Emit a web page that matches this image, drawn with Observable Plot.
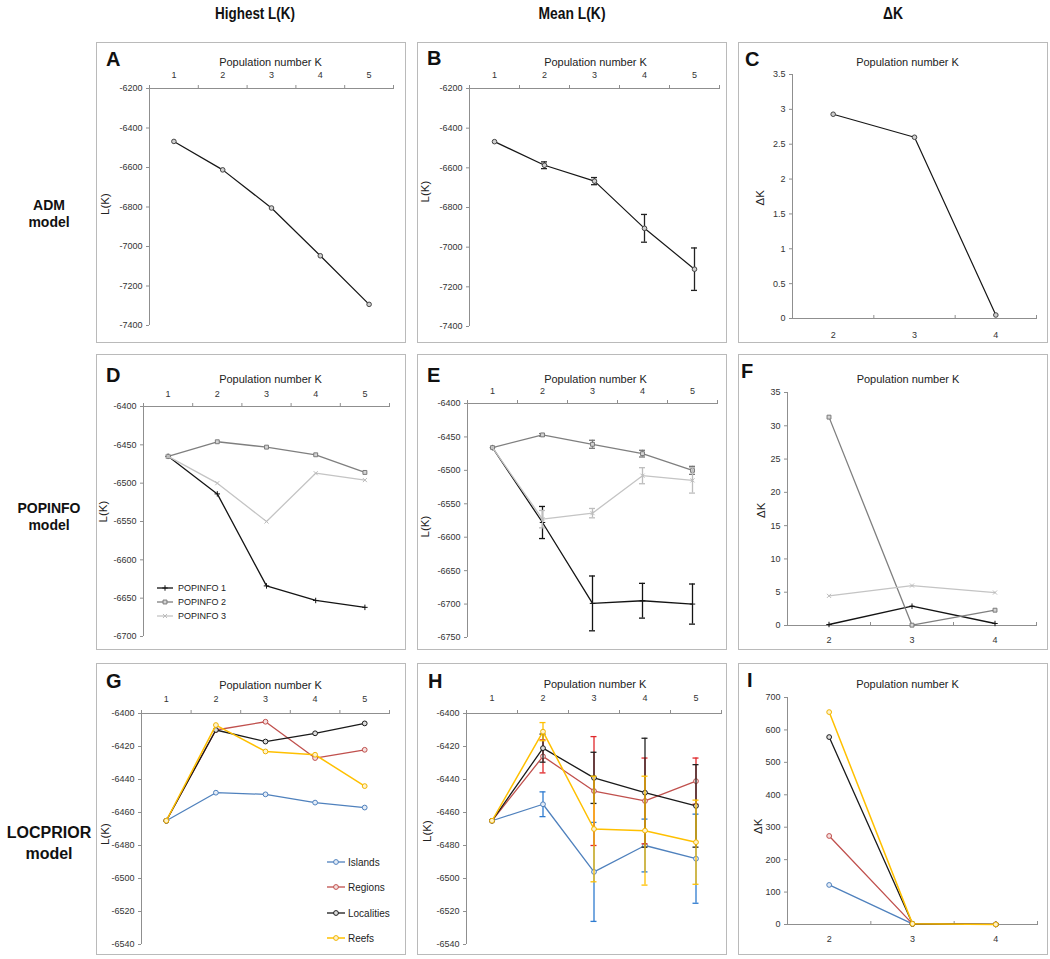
<!DOCTYPE html>
<html><head><meta charset="utf-8">
<script src="https://cdn.jsdelivr.net/npm/d3@7"></script>
<script src="https://cdn.jsdelivr.net/npm/@observablehq/plot@0.6"></script>
<style>
html,body{margin:0;padding:0;background:#fff;}
#page{position:relative;width:1050px;height:959px;overflow:hidden;font-family:'Liberation Sans',Arial,Helvetica,sans-serif;}
.frame{position:absolute;border:1px solid #bababa;box-sizing:border-box;}
.panel{position:absolute;overflow:visible;}
#overlay{position:absolute;left:0;top:0;}
</style></head><body><div id="page"></div>
<script>
// ---------------- DATA ----------------
const K_ALL = [1, 2, 3, 4, 5];
const K_DELTA = [2, 3, 4];

const columnTitles = ["Highest L(K)", "Mean L(K)", "\u0394K"];
const rowTitles = [["ADM", "model"], ["POPINFO", "model"], ["LOCPRIOR", "model"]];
const panelLetters = ["A", "B", "C", "D", "E", "F", "G", "H", "I"];
const xTitle = "Population number K";
const yTitleL = "L(K)";
const yTitleD = "\u0394K";

// ADM model
const admHighest = [-6468, -6612, -6805, -7047, -7293];
const admMean = [-6468, -6587, -6667, -6905, -7111];
const admMeanSD = [0, 17, 18, 70, 107];
const admDelta = [2.93, 2.60, 0.05];
const admTicksL = [-7400, -7200, -7000, -6800, -6600, -6400, -6200];
const admTicksD = [0, 0.5, 1, 1.5, 2, 2.5, 3, 3.5];

// POPINFO model
const popinfoNames = ["POPINFO 1", "POPINFO 2", "POPINFO 3"];
const popHighest1 = [-6465, -6514, -6634, -6653, -6662];
const popHighest2 = [-6465, -6446, -6453, -6463, -6486];
const popHighest3 = [-6465, -6500, -6550, -6487, -6496];
const popMean1 = [-6466, -6578, -6699, -6695, -6700];
const popMean2 = [-6466, -6447, -6461, -6475, -6500];
const popMean3 = [-6466, -6573, -6564, -6508, -6515];
const popMeanSD1 = [0, 24, 41, 26, 30];
const popMeanSD2 = [0, 2, 6, 5, 6];
const popMeanSD3 = [0, 13, 7, 12, 19];
const popDelta1 = [0.15, 2.9, 0.3];
const popDelta2 = [31.3, 0.05, 2.3];
const popDelta3 = [4.45, 6.0, 4.95];
const popTicksHigh = [-6700, -6650, -6600, -6550, -6500, -6450, -6400];
const popTicksMean = [-6750, -6700, -6650, -6600, -6550, -6500, -6450, -6400];
const popTicksD = [0, 5, 10, 15, 20, 25, 30, 35];

// LOCPRIOR model
const locNames = ["Islands", "Regions", "Localities", "Reefs"];
const locHighIslands = [-6465, -6448, -6449, -6454, -6457];
const locHighRegions = [-6465, -6410, -6405, -6427, -6422];
const locHighLocalities = [-6465, -6410, -6417, -6412, -6406];
const locHighReefs = [-6465, -6407, -6423, -6425, -6444];
const locMeanIslands = [-6465, -6455, -6496, -6480, -6488];
const locMeanRegions = [-6465, -6426, -6447, -6453, -6441];
const locMeanLocalities = [-6465, -6421, -6439, -6448, -6456];
const locMeanReefs = [-6465, -6411, -6470, -6471, -6478];
const locSDIslands = [0, 7.5, 30, 16, 27];
const locSDRegions = [0, 10, 33, 26, 14];
const locSDLocalities = [0, 8.5, 15.5, 33, 25];
const locSDReefs = [0, 5.5, 32, 33, 25.5];
const locDeltaIslands = [122, 2, 0.3];
const locDeltaRegions = [273, 2, 0.3];
const locDeltaLocalities = [578, 2, 0.3];
const locDeltaReefs = [655, 2, 0.3];
const locTicks = [-6540, -6520, -6500, -6480, -6460, -6440, -6420, -6400];
const locTicksD = [0, 100, 200, 300, 400, 500, 600, 700];

// ---------------- STYLES ----------------
const AXIS = "#8f8f8f";
const TXT = "#333";
const FONT = "'Liberation Sans', Arial, Helvetica, sans-serif";
const styADM = {color: "#161616", bar: "#222", symbol: "circle", mstroke: "#444", mfill: "#cfcfcf", r: 2.3, sw: 1.2};
const styPop = [
  {color: "#141414", bar: "#141414", symbol: "plus", mstroke: "#141414", mfill: "none", r: 1.9, sw: 1.3},
  {color: "#7f7f7f", bar: "#777", symbol: "square", mstroke: "#7a7a7a", mfill: "#d4d4d4", r: 2.2, sw: 1.3},
  {color: "#c4c4c4", bar: "#bdbdbd", symbol: "times", mstroke: "#bcbcbc", mfill: "none", r: 2.0, sw: 1.3}
];
const styLoc = [
  {color: "#4f81bd", bar: "#2e7bd0", symbol: "circle", mstroke: "#4f81bd", mfill: "#e4ecf7", r: 2.4, sw: 1.3},
  {color: "#c0504d", bar: "#e0282b", symbol: "circle", mstroke: "#c0504d", mfill: "#f5e0df", r: 2.4, sw: 1.3},
  {color: "#1a1a1a", bar: "#222", symbol: "circle", mstroke: "#1a1a1a", mfill: "#ddd", r: 2.4, sw: 1.3},
  {color: "#ffc000", bar: "#ffc000", symbol: "circle", mstroke: "#f0b400", mfill: "#fff2cc", r: 2.4, sw: 1.5}
];

const COLS = [96, 417, 738];
const ROWS = [{top: 42, h: 301}, {top: 354, h: 296}, {top: 663, h: 292}];
const PW = 310;

// ---------------- PANELS ----------------
const panels = [
  {c: 0, r: 0, ml: 53, mr: 13, mt: 46, mb: 18, ks: K_ALL, xAnchor: "top", xPad: 11, yDomain: [-7400, -6200], yTicks: admTicksL,
   yLabel: yTitleL, tdx: -1, tdy: -30, ldx: -44, ldy: 8,
   series: [{values: admHighest, ...styADM}]},
  {c: 1, r: 0, ml: 52, mr: 8, mt: 46, mb: 17, ks: K_ALL, xAnchor: "top", xPad: 11, yDomain: [-7400, -6200], yTicks: admTicksL,
   yLabel: yTitleL, tdx: 1, tdy: -30, ldx: -44, ldy: -5,
   series: [{values: admMean, sd: admMeanSD, ...styADM}]},
  {c: 2, r: 0, ml: 54, mr: 12, mt: 32, mb: 25, ks: K_DELTA, xAnchor: "bottom", xPad: 13, yDomain: [0, 3.5], yTicks: admTicksD,
   yLabel: yTitleD, tdx: -7, tdy: -16, ldx: -32, ldy: 9,
   series: [{values: admDelta, ...styADM}]},
  {c: 0, r: 1, ml: 47, mr: 17, mt: 52, mb: 14, ks: K_ALL, xAnchor: "top", xPad: 10, yDomain: [-6700, -6400], yTicks: popTicksHigh,
   yLabel: yTitleL, tdx: 4, tdy: -31, ldx: -40, ldy: 1,
   series: [popHighest1, popHighest2, popHighest3].map((v, i) => ({values: v, ...styPop[i]}))},
  {c: 1, r: 1, ml: 50, mr: 10, mt: 49, mb: 13, ks: K_ALL, xAnchor: "top", xPad: 10, yDomain: [-6750, -6400], yTicks: popTicksMean,
   yLabel: yTitleL, tdx: 3, tdy: -28, ldx: -42, ldy: 17,
   series: [[popMean1, popMeanSD1], [popMean2, popMeanSD2], [popMean3, popMeanSD3]].map(([v, sd], i) => ({values: v, sd, ...styPop[i]}))},
  {c: 2, r: 1, ml: 49, mr: 12, mt: 38, mb: 25, ks: K_DELTA, xAnchor: "bottom", xPad: 11, yDomain: [0, 35], yTicks: popTicksD,
   yLabel: yTitleD, tdx: -4, tdy: -17, ldx: -26, ldy: 9,
   series: [popDelta1, popDelta2, popDelta3].map((v, i) => ({values: v, ...styPop[i]}))},
  {c: 0, r: 2, ml: 45, mr: 17, mt: 50, mb: 11, ks: K_ALL, xAnchor: "top", xPad: 12, yDomain: [-6540, -6400], yTicks: locTicks,
   yLabel: yTitleL, tdx: 5, tdy: -32, ldx: -36, ldy: 16,
   series: [locHighIslands, locHighRegions, locHighLocalities, locHighReefs].map((v, i) => ({values: v, ...styLoc[i]}))},
  {c: 1, r: 2, ml: 49, mr: 6, mt: 50, mb: 11, ks: K_ALL, xAnchor: "top", xPad: 13, yDomain: [-6540, -6400], yTicks: locTicks,
   yLabel: yTitleL, tdx: 1, tdy: -33, ldx: -39, ldy: 13,
   series: [[locMeanIslands, locSDIslands], [locMeanRegions, locSDRegions], [locMeanLocalities, locSDLocalities], [locMeanReefs, locSDReefs]]
     .map(([v, sd], i) => ({values: v, sd, ...styLoc[i]}))},
  {c: 2, r: 2, ml: 49, mr: 11, mt: 34, mb: 31, ks: K_DELTA, xAnchor: "bottom", xPad: 11, yDomain: [0, 700], yTicks: locTicksD,
   yLabel: yTitleD, tdx: -5, tdy: -17, ldx: -29, ldy: 23,
   series: [locDeltaIslands, locDeltaRegions, locDeltaLocalities, locDeltaReefs].map((v, i) => ({values: v, ...styLoc[i]}))}
];

const page = document.getElementById("page");

function makePanel(p) {
  const left = COLS[p.c], top = ROWS[p.r].top, height = ROWS[p.r].h, width = PW;
  const ks = p.ks;
  const xDomain = [ks[0] - 0.5, ks[ks.length - 1] + 0.5];
  const bounds = d3.range(ks.length + 1).map(i => xDomain[0] + i);
  const plotH = height - p.mt - p.mb;
  const plotW = width - p.ml - p.mr;
  const capW = 3 / (plotW / ks.length);
  const marks = [
    Plot.ruleX([xDomain[0]], {stroke: AXIS}),
    Plot.ruleY([p.xAnchor === "top" ? p.yDomain[1] : p.yDomain[0]], {stroke: AXIS}),
    Plot.axisY({ticks: p.yTicks, tickSize: 3, tickPadding: 4, tickFormat: d => String(d), fontSize: 9, label: null, stroke: AXIS, fill: TXT}),
    Plot.axisX({anchor: "top", ticks: bounds, tickSize: 4, tickFormat: () => "", label: null, stroke: AXIS, dy: p.xAnchor === "top" ? 0 : plotH}),
    Plot.axisX({anchor: p.xAnchor, ticks: ks, tickSize: 0, tickPadding: p.xPad, tickFormat: d => String(d), fontSize: 9, label: null, fill: TXT}),
    Plot.text([xTitle], {text: d => d, frameAnchor: "top", dx: p.tdx, dy: p.tdy, fontSize: 11, fill: "#222"}),
    Plot.text([p.yLabel], {text: d => d, frameAnchor: "left", rotate: -90, dx: p.ldx, dy: p.ldy, fontSize: 11.5, fill: "#222"})
  ];
  for (const s of p.series) {
    const rows = s.values.map((v, i) => ({k: ks[i], v, e: s.sd ? s.sd[i] : 0}));
    if (s.sd) {
      const eb = rows.filter(d => d.e > 0);
      marks.push(Plot.ruleX(eb, {x: "k", y1: d => d.v - d.e, y2: d => d.v + d.e, stroke: s.bar, strokeWidth: 1.3}));
      marks.push(Plot.ruleY(eb, {y: d => d.v - d.e, x1: d => d.k - capW, x2: d => d.k + capW, stroke: s.bar, strokeWidth: 1.3}));
      marks.push(Plot.ruleY(eb, {y: d => d.v + d.e, x1: d => d.k - capW, x2: d => d.k + capW, stroke: s.bar, strokeWidth: 1.3}));
    }
    marks.push(Plot.line(rows, {x: "k", y: "v", stroke: s.color, strokeWidth: s.sw}));
    marks.push(Plot.dot(rows, {x: "k", y: "v", r: s.r, symbol: s.symbol, stroke: s.mstroke, fill: s.mfill, strokeWidth: 1}));
  }
  const svg = Plot.plot({
    width, height,
    marginLeft: p.ml, marginRight: p.mr, marginTop: p.mt, marginBottom: p.mb,
    x: {type: "linear", domain: xDomain, axis: null},
    y: {type: "linear", domain: p.yDomain, axis: null},
    style: {fontFamily: FONT, fontSize: "9px", color: TXT, background: "none", overflow: "visible"},
    marks
  });
  const frame = document.createElement("div");
  frame.className = "frame";
  Object.assign(frame.style, {left: left + "px", top: top + "px", width: width + "px", height: height + "px"});
  page.appendChild(frame);
  svg.classList.add("panel");
  Object.assign(svg.style, {left: left + "px", top: top + "px"});
  page.appendChild(svg);
}
panels.forEach(makePanel);

// ---------------- OVERLAY TEXT & LEGENDS ----------------
const ov = d3.select(page).append("svg").attr("id", "overlay").attr("width", 1050).attr("height", 959)
  .style("font-family", FONT);

const headerX = [255, 572, 893];
const headerLen = [80, 67, 20];
columnTitles.forEach((t, i) => ov.append("text").attr("x", headerX[i]).attr("y", 19).attr("text-anchor", "middle")
  .attr("font-family", "'Liberation Sans Narrow','Arial Narrow','Liberation Sans',sans-serif").attr("font-weight", "bold")
  .attr("font-size", 16).attr("fill", "#111")
  .attr("textLength", headerLen[i]).attr("lengthAdjust", "spacingAndGlyphs").text(t));

const rowLabelY = [[210, 227], [513, 530], [838, 859]];
const rowLabelSize = [14, 14, 16];
rowTitles.forEach((lines, r) => lines.forEach((t, j) => ov.append("text").attr("x", 49).attr("y", rowLabelY[r][j])
  .attr("text-anchor", "middle").attr("font-weight", "bold").attr("font-size", rowLabelSize[r]).attr("fill", "#111").text(t)));

const letterPos = [[106, 66], [427, 65], [745, 66], [106, 382], [427, 382], [741, 378], [106, 688], [428, 688], [747, 687]];
panelLetters.forEach((t, i) => ov.append("text").attr("x", letterPos[i][0]).attr("y", letterPos[i][1])
  .attr("font-weight", "bold").attr("font-size", 20).attr("fill", "#111").text(t));

function legend(names, styles, x0, x1, tx, ys, fs) {
  names.forEach((n, i) => {
    const s = styles[i], y = ys[i], cx = (x0 + x1) / 2;
    ov.append("line").attr("x1", x0).attr("x2", x1).attr("y1", y).attr("y2", y).attr("stroke", s.color).attr("stroke-width", s.sw);
    const sym = {circle: d3.symbolCircle, square: d3.symbolSquare, plus: d3.symbolPlus, times: d3.symbolTimes}[s.symbol];
    const size = Math.PI * s.r * s.r;
    ov.append("path").attr("d", d3.symbol(sym, size)()).attr("transform", `translate(${cx},${y})`)
      .attr("stroke", s.mstroke).attr("fill", s.mfill).attr("stroke-width", 1);
    ov.append("text").attr("x", tx).attr("y", y + fs * 0.35).attr("font-size", fs).attr("fill", "#222").text(n);
  });
}
legend(popinfoNames, styPop, 157, 173, 178, [588, 602, 616], 9);
legend(locNames, styLoc, 327, 345, 348, [862, 887, 913, 938], 10);
</script></body></html>
